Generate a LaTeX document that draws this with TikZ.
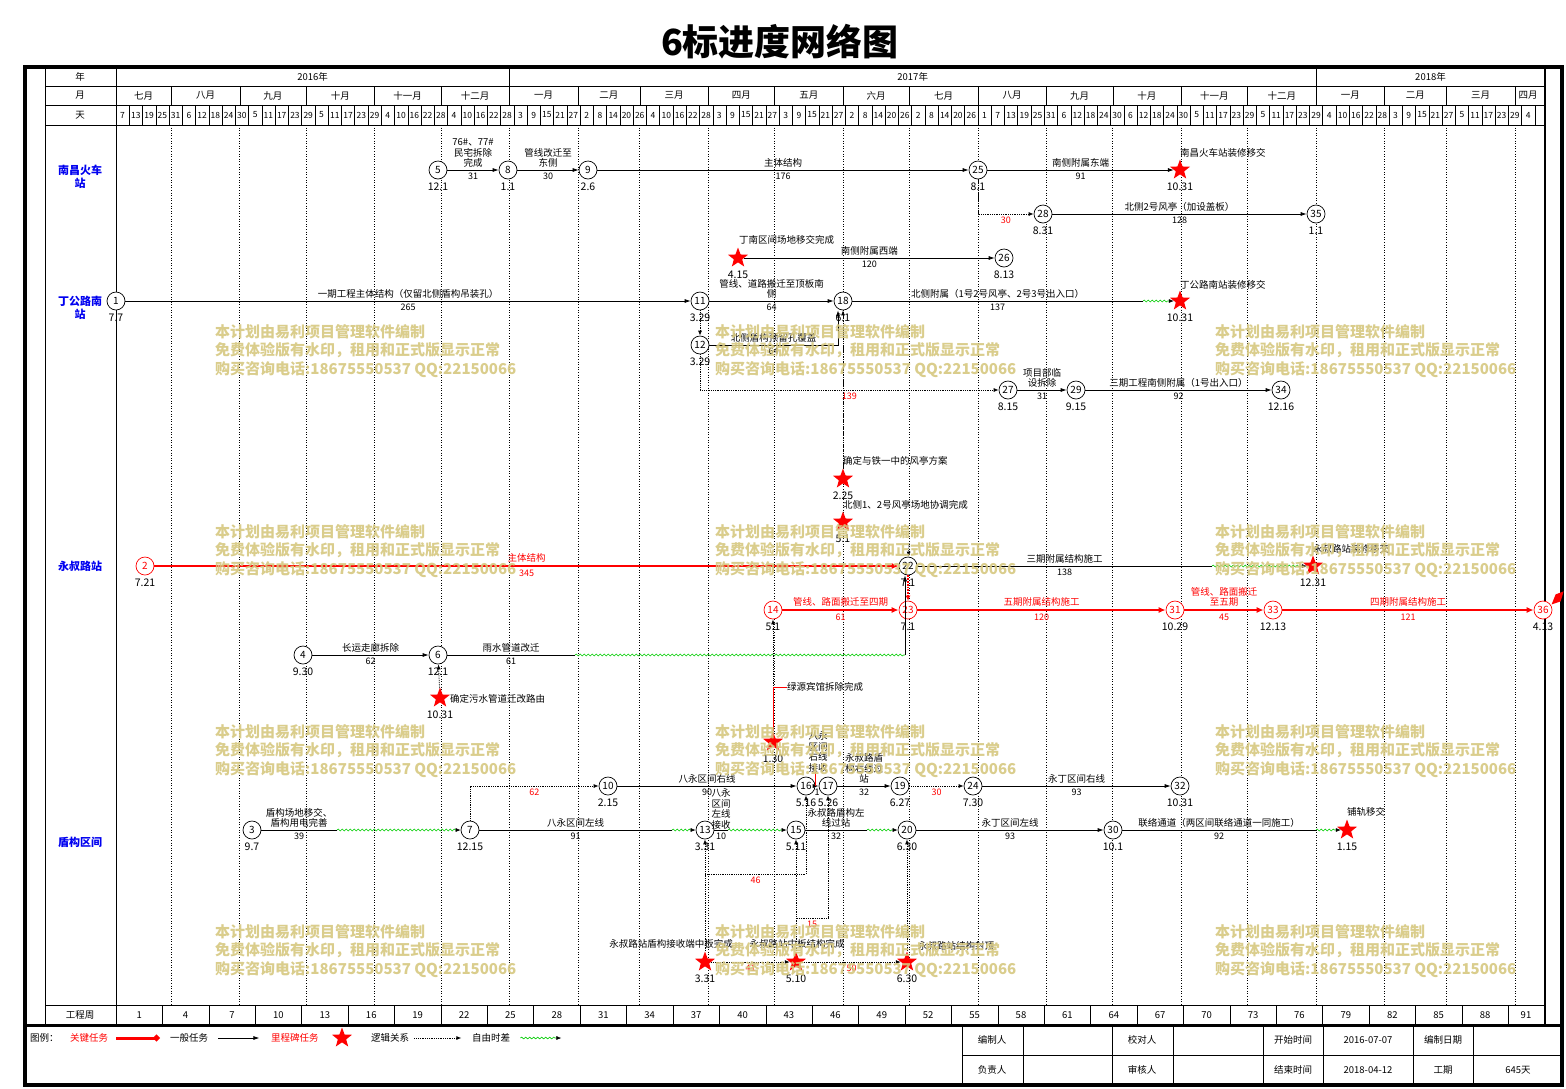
\documentclass[tikz,border=0pt]{standalone}
\usepackage{fontspec}
\setmainfont{Noto Sans CJK SC}
\usetikzlibrary{positioning, arrows.meta, shapes.geometric, decorations.pathmorphing}
\definecolor{wmc}{RGB}{214,200,128}
\definecolor{stnblue}{RGB}{0,0,240}

\begin{document}
\begin{tikzpicture}[x=1pt, y=-1pt,
    evt/.style={circle, draw, line width=0.7pt, inner sep=0pt, minimum size=18pt, fill=white, font=\fontsize{10}{10}\selectfont},
    cevt/.style={evt, draw=red, text=red},
    mile/.style={star, star points=5, star point ratio=2.4, fill=red, inner sep=0pt, minimum size=21pt},
    dtl/.style={font=\fontsize{10.5}{11}\selectfont, inner sep=0pt, yshift=-3pt},
    dt/.style={label={[dtl]below:#1}},
    sdt/.style={label={[dtl, yshift=-5pt]below:#1}},
    line/.style={draw, line width=0.7pt},
    job/.style={line, -{Latex[length=6pt, width=4pt]}},
    cjob/.style={draw=red, line width=2.6pt, -{Latex[length=7pt, width=6pt]}},
    logic/.style={draw, densely dotted, line width=0.8pt, -{Latex[length=5pt, width=4pt]}},
    clogic/.style={draw=red, densely dotted, line width=1.8pt, -{Latex[length=5pt, width=5pt]}},
    slack/.style={draw=green!80!black, line width=0.6pt, decorate, decoration={snake, amplitude=0.9pt, segment length=4pt, post length=5pt}, -{Latex[length=5pt, width=4pt, color=black]}},
    wave/.style={draw=green!80!black, line width=0.6pt, decorate, decoration={snake, amplitude=0.9pt, segment length=4pt}},
    grid/.style={dotted, line width=0.6pt},
    tsk/.style={font=\fontsize{9.5}{10.5}\selectfont, inner sep=0pt, align=center},
    dur/.style={font=\fontsize{9}{10}\selectfont, inner sep=0pt},
    hd/.style={font=\fontsize{9.5}{10}\selectfont, inner sep=0pt},
    stn/.style={font=\bfseries\fontsize{11}{12.5}\selectfont, text=stnblue, align=center, inner sep=0pt},
    wm/.style={font=\bfseries\fontsize{15}{18.5}\selectfont, text=wmc, text opacity=0.9, align=left, inner sep=0pt, anchor=north west}]

    \fill[white] (0,0) rectangle (1566,1088);
    \useasboundingbox (0,0) rectangle (1566,1088);

    \node[font=\bfseries\fontsize{36}{36}\selectfont] (title) at (780,42) {6标进度网络图};

    \draw[line width=3.5pt] (25,67) rectangle (1562,1085);
    \draw[line width=3pt] (25,1025) -- (1562,1025);
    \draw[line width=2.5pt] (1545,67) -- (1545,1025);
    \draw (45,67) -- (45,1025);
    \draw (116,67) -- (116,1025);
    \foreach \y in {86,105,125,1005}
    {
    \draw (45,\y) -- (1545,\y);
    }
    \node[hd] at (80,76.5) {年};
    \node[hd] at (80,95.5) {月};
    \node[hd] at (80,115) {天};
    \node[hd] at (80,1015) {工程周};

    \draw ({116+2.21*178},67) -- ++(0,19);
    \draw ({116+2.21*543},67) -- ++(0,19);
    \node[hd] at ({116+1.105*178},76.5) {2016年};
    \node[hd] at ({116+1.105*(178+543)},76.5) {2017年};
    \node[hd] at ({(116+2.21*543+1545)/2},76.5) {2018年};

    \foreach \a/\b/\m in {0/25/七月, 25/56/八月, 56/86/九月, 86/117/十月, 117/147/十一月, 147/178/十二月, 178/209/一月, 209/237/二月, 237/268/三月, 268/298/四月, 298/329/五月, 329/359/六月, 359/390/七月, 390/421/八月, 421/451/九月, 451/482/十月, 482/512/十一月, 512/543/十二月, 543/574/一月, 574/602/二月, 602/633/三月, 633/645/四月}
    {
    \node[hd] at ({116+1.105*(\a+\b)},95.5) {\m};
    }
    \foreach \d in {25,56,86,117,147,178,209,237,268,298,329,359,390,421,451,482,512,543,574,602,633}
    {
    \draw ({116+2.21*\d},86) -- ++(0,19);
    \draw[grid] ({116+2.21*\d},125) -- ++(0,880);
    }
    \foreach \lab [count=\i from 0] in {7,13,19,25,31,6,12,18,24,30,5,11,17,23,29,5,11,17,23,29,4,10,16,22,28,4,10,16,22,28,3,9,15,21,27,2,8,14,20,26,4,10,16,22,28,3,9,15,21,27,3,9,15,21,27,2,8,14,20,26,2,8,14,20,26,1,7,13,19,25,31,6,12,18,24,30,6,12,18,24,30,5,11,17,23,29,5,11,17,23,29,4,10,16,22,28,3,9,15,21,27,5,11,17,23,29,4}
    {
    \draw ({116+13.26*\i},105) -- ++(0,20);
    \node[font=\fontsize{8.5}{9}\selectfont, inner sep=0pt] at ({116+13.26*\i+6.6},115) {\lab};
    }
    \draw ({116+13.26*107},105) -- ++(0,20);
    \foreach \w [count=\k from 0] in {1,4,...,91}
    {
    \draw ({116+46.41*\k},1005) -- ++(0,20);
    \node[hd] at ({min(116+46.41*\k+23.2,1526)},1015) {\w};
    }

    \node[stn] (s1) at (80,176.5) {南昌火车\\站};
    \node[stn] (s2) at (80,308) {丁公路南\\站};
    \node[stn] (s3) at (80,566) {永叔路站};
    \node[stn] (s4) at (80,842) {盾构区间};

    \node[evt, dt=12.1] (n5) at (438,170) {5};
    \node[evt, dt=1.1] (n8) at (508,170) {8};
    \node[evt, dt=2.6] (n9) at (588,170) {9};
    \node[evt, dt=8.1] (n25) at (978,170) {25};
    \node[mile, sdt=10.31] (m1) at (1180,170) {};
    \node[evt, dt=8.31] (n28) at (1043,214) {28};
    \node[evt, dt=1.1] (n35) at (1316,214) {35};
    \node[mile, sdt=4.15] (m2) at (738,258) {};
    \node[evt, dt=8.13] (n26) at (1004,258) {26};
    \node[evt, dt=7.7] (n1) at (116,301) {1};
    \node[evt, dt=3.29] (n11) at (700,301) {11};
    \node[evt, dt=6.1] (n18) at (843,301) {18};
    \node[mile, sdt=10.31] (m3) at (1180,301) {};
    \node[evt, dt=3.29] (n12) at (700,345) {12};
    \node[evt, dt=8.15] (n27) at (1008,390) {27};
    \node[evt, dt=9.15] (n29) at (1076,390) {29};
    \node[evt, dt=12.16] (n34) at (1281,390) {34};
    \node[mile, sdt=2.25] (m4) at (843,479) {};
    \node[mile, sdt=5.1] (m5) at (843,522) {};
    \node[cevt, dt=7.21] (n2) at (145,566) {2};
    \node[evt, dt=7.1] (n22) at (908,566) {22};
    \node[mile, sdt=12.31] (m6) at (1313,566) {};
    \node[cevt, dt=5.1] (n14) at (773,610) {14};
    \node[cevt, dt=7.1] (n23) at (908,610) {23};
    \node[cevt, dt=10.29] (n31) at (1175,610) {31};
    \node[cevt, dt=12.13] (n33) at (1273,610) {33};
    \node[cevt, dt=4.13] (n36) at (1543,610) {36};
    \node[evt, dt=9.30] (n4) at (303,655) {4};
    \node[evt, dt=12.1] (n6) at (438,655) {6};
    \node[mile, sdt=10.31] (m7) at (440,698) {};
    \node[mile, sdt=1.30] (m8) at (773,742) {};
    \node[evt, dt=2.15] (n10) at (608,786) {10};
    \node[evt, dt=5.16] (n16) at (806,786) {16};
    \node[evt, dt=5.26] (n17) at (828,786) {17};
    \node[evt, dt=6.27] (n19) at (900,786) {19};
    \node[evt, dt=7.30] (n24) at (973,786) {24};
    \node[evt, dt=10.31] (n32) at (1180,786) {32};
    \node[evt, dt=9.7] (n3) at (252,830) {3};
    \node[evt, dt=12.15] (n7) at (470,830) {7};
    \node[evt, dt=3.31] (n13) at (705,830) {13};
    \node[evt, dt=5.11] (n15) at (796,830) {15};
    \node[evt, dt=6.30] (n20) at (907,830) {20};
    \node[evt, dt=10.1] (n30) at (1113,830) {30};
    \node[mile, sdt=1.15] (m9) at (1347,830) {};
    \node[mile, sdt=3.31] (m10) at (705,962) {};
    \node[mile, sdt=5.10] (m11) at (796,962) {};
    \node[mile, sdt=6.30] (m12) at (907,962) {};
    \fill[red] ([xshift=2pt, yshift=-1pt]n36.north east) -- ++(4,-10) -- ++(8,-3) -- ++(-3,10) -- cycle;

    \node[tsk, anchor=west] (t1) at (1180,153) {南昌火车站装修移交};
    \node[tsk, anchor=west] (t2) at (739,240) {丁南区间场地移交完成};
    \node[tsk, anchor=west] (t3) at (1180,285) {丁公路南站装修移交};
    \node[tsk, anchor=west] (t4) at (843,461) {确定与铁一中的风亭方案};
    \node[tsk, anchor=west] (t5) at (843,505) {北侧1、2号风亭场地协调完成};
    \node[tsk, anchor=west] (t6) at (1313,549) {永叔路站装修移交};
    \node[tsk, anchor=west] (t7) at (450,699) {确定污水管道迁改路由};
    \node[tsk, anchor=west] (t8) at (787,687) {绿源宾馆拆除完成};
    \node[tsk, anchor=west] (t9) at (1347,812) {铺轨移交};
    \node[tsk, anchor=east] (t10) at (733,944) {永叔路站盾构接收端中板完成};
    \node[tsk] (t11) at (797,944) {永叔路站中板结构完成};
    \node[tsk, anchor=west] (t12) at (918,946) {永叔路站结构封顶};
    \node[tsk] (t16) at (818,752) {八永\\区间\\右线\\接收};
    \node[tsk] (t13) at (721,809) {八永\\区间\\左线\\接收};

    \coordinate (f18) at (1143,301);
    \coordinate (f22) at (1212,566);
    \coordinate (f6a) at (575,655);
    \coordinate (f6b) at (905,655);
    \coordinate (l22) at (909,543);
    \coordinate (f3) at (337,830);
    \coordinate (f7) at (672,830);
    \coordinate (f13) at (728,830);
    \coordinate (f15) at (867,830);
    \coordinate (f30) at (1316,830);
    \coordinate (j46) at (705,874);
    \coordinate (j15) at (796,918);

    \draw[job] (n5) -- node[tsk, above=2pt]{76\#、77\#\\民宅拆除\\完成} node[dur, below=3pt]{31} (n8);
    \draw[job] (n8) -- node[tsk, above=2pt]{管线改迁至\\东侧} node[dur, below=3pt]{30} (n9);
    \draw[job] (n9) -- node[tsk, above=2pt]{主体结构} node[dur, below=3pt]{176} (n25);
    \draw[job] (n25) -- node[tsk, above=2pt]{南侧附属东端} node[dur, below=3pt]{91} (m1);
    \draw[logic] (n25) |- node[dur, red, pos=0.75, below=3pt]{30} (n28);
    \draw[job] (n28) -- node[tsk, above=2pt]{北侧2号风亭（加设盖板）} node[dur, below=3pt]{128} (n35);
    \draw[job] (m2) -- node[tsk, above=2pt]{南侧附属西端} node[dur, below=3pt]{120} (n26);
    \draw[job] (n1) -- node[tsk, above=2pt]{一期工程主体结构（仅留北侧盾构吊装孔）} node[dur, below=3pt]{265} (n11);
    \draw[job] (n11) -- node[tsk, above=2pt]{管线、道路搬迁至顶板南\\侧} node[dur, below=3pt]{64} (n18);
    \draw[line] (n18) -- node[tsk, above=2pt]{北侧附属（1号2号风亭、2号3号出入口）} node[dur, below=3pt]{137} (f18);
    \draw[slack] (f18) -- (m3);
    \draw[logic] (n11) -- (n12);
    \draw[job] (n12) -| node[tsk, pos=0.25, above=2pt]{北侧盾构预留孔覆盖} node[dur, pos=0.25, below=3pt]{64} ([xshift=-5pt]n18.south);
    \draw[logic] (n12) |- node[dur, red, pos=0.75, below=3pt]{139} (n27);
    \draw[job] (n27) -- node[tsk, above=2pt]{项目部临\\设拆除} node[dur, below=3pt]{31} (n29);
    \draw[job] (n29) -- node[tsk, above=2pt]{三期工程南侧附属（1号出入口）} node[dur, below=3pt]{92} (n34);
    \draw[logic] (m4) -- (n18);
    \draw[logic] (l22) -- (n22);

    \draw[cjob] (n2) -- node[tsk, red, above=2pt]{主体结构} node[dur, red, below=3pt]{345} (n22);
    \draw[line] (n22) -- node[tsk, above=2pt]{三期附属结构施工} node[dur, below=3pt]{138} (f22);
    \draw[slack] (f22) -- (m6);
    \draw[clogic] (n22) -- (n23);
    \draw[cjob] (n14) -- node[tsk, red, above=2pt]{管线、路面搬迁至四期} node[dur, red, below=3pt]{61} (n23);
    \draw[cjob] (n23) -- node[tsk, red, above=2pt]{五期附属结构施工} node[dur, red, below=3pt]{120} (n31);
    \draw[cjob] (n31) -- node[tsk, red, above=2pt]{管线、路面搬迁\\至五期} node[dur, red, below=3pt]{45} (n33);
    \draw[cjob] (n33) -- node[tsk, red, above=2pt]{四期附属结构施工} node[dur, red, below=3pt]{121} (n36);
    \draw[job] (n4) -- node[tsk, above=2pt]{长运走廊拆除} node[dur, below=3pt]{62} (n6);
    \draw[line] (n6) -- node[tsk, above=2pt]{雨水管道改迁} node[dur, below=3pt]{61} (f6a);
    \draw[wave] (f6a) -- (f6b);
    \draw[job] (f6b) -- (f6b |- n22.south);
    \draw[logic] (m7) -- (n6);
    \draw[logic] (m8) -- (n14);
    \draw[red, line width=0.7pt] (m8) |- (t8.west);

    \draw[line] (n3) -- node[tsk, above=2pt]{盾构场地移交、\\盾构用电完善} node[dur, below=3pt]{39} (f3);
    \draw[slack] (f3) -- (n7);
    \draw[line] (n7) -- node[tsk, above=2pt]{八永区间左线} node[dur, below=3pt]{91} (f7);
    \draw[slack] (f7) -- (n13);
    \draw[logic] (n7) |- node[dur, red, pos=0.75, below=3pt]{62} (n10);
    \draw[job] (n10) -- node[tsk, above=2pt]{八永区间右线} node[dur, below=3pt]{90} (n16);
    \draw[job] (n16) -- node[dur, below=3pt]{1} (n17);
    \draw[red, line width=0.7pt] ([xshift=-3pt]t16.south) -- ([xshift=-3pt]t16.south |- n16);
    \draw[job] (n17) -- node[tsk, above=2pt]{永叔路盾\\构右线过\\站} node[dur, below=3pt]{32} (n19);
    \draw[logic] (n19) -- node[dur, red, below=3pt]{30} (n24);
    \draw[job] (n24) -- node[tsk, above=2pt]{永丁区间右线} node[dur, below=3pt]{93} (n32);
    \draw[line] (n13) -- node[dur, below=3pt]{10} (f13);
    \draw[slack] (f13) -- (n15);
    \draw[line] (n15) -- node[tsk, above=2pt]{永叔路盾构左\\线过站} node[dur, below=3pt]{32} (f15);
    \draw[slack] (f15) -- (n20);
    \draw[job] (n20) -- node[tsk, above=2pt]{永丁区间左线} node[dur, below=3pt]{93} (n30);
    \draw[line] (n30) -- node[tsk, above=2pt]{联络通道（两区间联络通道一同施工）} node[dur, below=3pt]{92} (f30);
    \draw[slack] (f30) -- (m9);

    \draw[logic] (m10) -- node[dur, red, below=3pt]{41} (m11);
    \draw[logic] (m11) -- node[dur, red, below=3pt]{50} (m12);
    \draw[logic] (m10) -- (n13);
    \draw[logic] (m10) -- (j46) -| node[dur, red, pos=0.25, below=3pt]{46} (n16);
    \draw[logic] (m11) -- (n15);
    \draw[logic] (m11) -- (j15) -| node[dur, red, pos=0.25, below=3pt]{15} (n17);
    \draw[logic] (m12) -- (n20);

    \node[tsk, anchor=west] (lg0) at (30,1038) {图例：};
    \node[tsk, red, anchor=west] (lg1) at (70,1038) {关键任务};
    \node[tsk, anchor=west] (lg2) at (170,1038) {一般任务};
    \node[tsk, red, anchor=west] (lg3) at (271,1038) {里程碑任务};
    \node[mile] (lgs) at (342,1038) {};
    \node[tsk, anchor=west] (lg4) at (371,1038) {逻辑关系};
    \node[tsk, anchor=west] (lg5) at (472,1038) {自由时差};
    \draw[draw=red, line width=3pt, -{Circle[length=6pt]}] ([xshift=8pt]lg1.east) -- ++(43,0);
    \draw[job] ([xshift=10pt]lg2.east) -- ++(41,0);
    \draw[logic] ([xshift=5pt]lg4.east) -- ++(47,0);
    \draw[slack] ([xshift=10pt]lg5.east) -- ++(41,0);

    \foreach \x in {962,1023,1112,1173,1263,1323,1413,1473}
    {
    \draw (\x,1025) -- (\x,1085);
    }
    \draw (962,1055) -- (1562,1055);
    \node[hd] at (992,1040) {编制人};
    \node[hd] at (1142,1040) {校对人};
    \node[hd] at (1293,1040) {开始时间};
    \node[hd] at (1368,1040) {2016-07-07};
    \node[hd] at (1443,1040) {编制日期};
    \node[hd] at (992,1070) {负责人};
    \node[hd] at (1142,1070) {审核人};
    \node[hd] at (1293,1070) {结束时间};
    \node[hd] at (1368,1070) {2018-04-12};
    \node[hd] at (1443,1070) {工期};
    \node[hd] at (1518,1070) {645天};

    \foreach \wx in {215,715,1215}
    {
    \foreach \wy in {333,533,733,933}
    {
    \node[wm] at (\wx,\wy-9) {本计划由易利项目管理软件编制\\免费体验版有水印，租用和正式版显示正常\\购买咨询电话:18675550537 QQ:22150066};
    }
    }
\end{tikzpicture}
\end{document}
